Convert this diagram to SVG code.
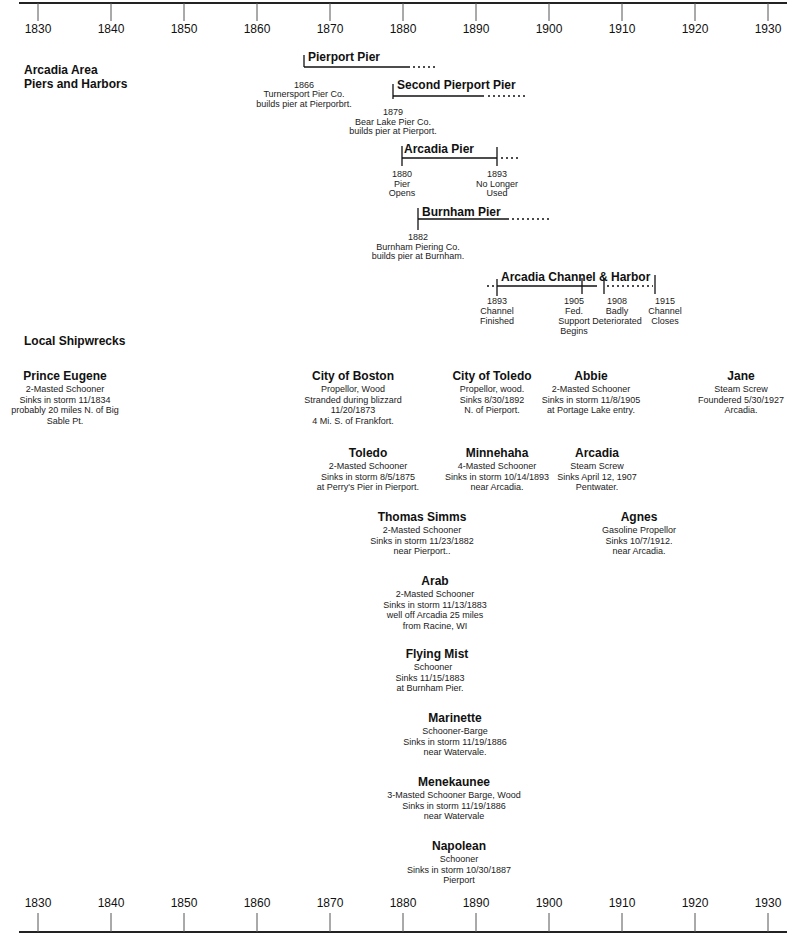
<svg xmlns="http://www.w3.org/2000/svg" width="800" height="937" viewBox="0 0 800 937">
<style>
text{font-family:"Liberation Sans",Arial,sans-serif;fill:#111}
.yr{font-size:12px;text-anchor:middle}
.h{font-size:12px;font-weight:bold}
.t{font-size:12px;font-weight:bold;text-anchor:middle}
.d{font-size:9px;text-anchor:middle;fill:#222}
.ax{stroke:#222;stroke-width:2}
.tk{stroke:#555;stroke-width:1}
.pl{stroke:#111;stroke-width:1.3;fill:none}
.dot{stroke:#111;stroke-width:1.3;stroke-dasharray:2 3;fill:none}
</style>
<g id="axis-top">
<line class="ax" x1="19" y1="3" x2="787" y2="3"/>
<g class="tk"><line x1="38" y1="3" x2="38" y2="21"/><line x1="111" y1="3" x2="111" y2="21"/><line x1="184" y1="3" x2="184" y2="21"/><line x1="257" y1="3" x2="257" y2="21"/><line x1="330" y1="3" x2="330" y2="21"/><line x1="403" y1="3" x2="403" y2="21"/><line x1="476" y1="3" x2="476" y2="21"/><line x1="549" y1="3" x2="549" y2="21"/><line x1="622" y1="3" x2="622" y2="21"/><line x1="695" y1="3" x2="695" y2="21"/><line x1="768" y1="3" x2="768" y2="21"/></g>
<text class="yr" x="38" y="33">1830</text><text class="yr" x="111" y="33">1840</text><text class="yr" x="184" y="33">1850</text><text class="yr" x="257" y="33">1860</text><text class="yr" x="330" y="33">1870</text><text class="yr" x="403" y="33">1880</text><text class="yr" x="476" y="33">1890</text><text class="yr" x="549" y="33">1900</text><text class="yr" x="622" y="33">1910</text><text class="yr" x="695" y="33">1920</text><text class="yr" x="768" y="33">1930</text>
</g>
<g id="axis-bottom">
<line class="ax" x1="19" y1="932" x2="787" y2="932"/>
<g class="tk"><line x1="38" y1="913" x2="38" y2="932"/><line x1="111" y1="913" x2="111" y2="932"/><line x1="184" y1="913" x2="184" y2="932"/><line x1="257" y1="913" x2="257" y2="932"/><line x1="330" y1="913" x2="330" y2="932"/><line x1="403" y1="913" x2="403" y2="932"/><line x1="476" y1="913" x2="476" y2="932"/><line x1="549" y1="913" x2="549" y2="932"/><line x1="622" y1="913" x2="622" y2="932"/><line x1="695" y1="913" x2="695" y2="932"/><line x1="768" y1="913" x2="768" y2="932"/></g>
<text class="yr" x="38" y="907">1830</text><text class="yr" x="111" y="907">1840</text><text class="yr" x="184" y="907">1850</text><text class="yr" x="257" y="907">1860</text><text class="yr" x="330" y="907">1870</text><text class="yr" x="403" y="907">1880</text><text class="yr" x="476" y="907">1890</text><text class="yr" x="549" y="907">1900</text><text class="yr" x="622" y="907">1910</text><text class="yr" x="695" y="907">1920</text><text class="yr" x="768" y="907">1930</text>
</g>
<g id="section-piers"><text class="h" x="24" y="74">Arcadia Area</text><text class="h" x="24" y="88">Piers and Harbors</text></g>
<g id="pierport-pier">
<line class="pl" x1="304" y1="55" x2="304" y2="67"/><line class="pl" x1="304" y1="67" x2="410" y2="67"/><line class="dot" x1="413" y1="67" x2="436" y2="67"/>
<text class="h" x="308" y="61">Pierport Pier</text>
<text class="d" x="304" y="87.5">1866</text><text class="d" x="304" y="97">Turnersport Pier Co.</text><text class="d" x="304" y="106.5">builds pier at Pierporbrt.</text>
</g>
<g id="second-pierport-pier">
<line class="pl" x1="393" y1="84" x2="393" y2="99"/><line class="pl" x1="393" y1="96" x2="484" y2="96"/><line class="dot" x1="488" y1="96" x2="525" y2="96"/>
<text class="h" x="397" y="89">Second Pierport Pier</text>
<text class="d" x="393" y="115">1879</text><text class="d" x="393" y="124.5">Bear Lake Pier Co.</text><text class="d" x="393" y="134">builds pier at Pierport.</text>
</g>
<g id="arcadia-pier">
<line class="pl" x1="402" y1="146" x2="402" y2="166"/><line class="pl" x1="497" y1="147" x2="497" y2="166"/><line class="pl" x1="402" y1="158" x2="497" y2="158"/><line class="dot" x1="501" y1="158" x2="520" y2="158"/>
<text class="h" x="404" y="153">Arcadia Pier</text>
<text class="d" x="402" y="177">1880</text><text class="d" x="402" y="186.5">Pier</text><text class="d" x="402" y="196">Opens</text>
<text class="d" x="497" y="177">1893</text><text class="d" x="497" y="186.5">No Longer</text><text class="d" x="497" y="196">Used</text>
</g>
<g id="burnham-pier">
<line class="pl" x1="418" y1="208" x2="418" y2="230"/><line class="pl" x1="418" y1="219" x2="509" y2="219"/><line class="dot" x1="512" y1="219" x2="549" y2="219"/>
<text class="h" x="422" y="216">Burnham Pier</text>
<text class="d" x="418" y="240">1882</text><text class="d" x="418" y="249.5">Burnham Piering Co.</text><text class="d" x="418" y="259">builds pier at Burnham.</text>
</g>
<g id="arcadia-channel-harbor">
<line class="dot" x1="487" y1="286" x2="497" y2="286"/><line class="pl" x1="497" y1="279" x2="497" y2="296"/><line class="pl" x1="497" y1="286" x2="597" y2="286"/>
<line class="pl" x1="582" y1="278" x2="582" y2="294"/><line class="pl" x1="604" y1="278" x2="604" y2="294"/><line class="dot" x1="607" y1="286" x2="653" y2="286"/><line class="pl" x1="655" y1="275" x2="655" y2="294"/>
<text class="h" x="501" y="281">Arcadia Channel &amp; Harbor</text>
<text class="d" x="497" y="304">1893</text><text class="d" x="497" y="314">Channel</text><text class="d" x="497" y="324">Finished</text>
<text class="d" x="574" y="304">1905</text><text class="d" x="574" y="314">Fed.</text><text class="d" x="574" y="324">Support</text><text class="d" x="574" y="334">Begins</text>
<text class="d" x="617" y="304">1908</text><text class="d" x="617" y="314">Badly</text><text class="d" x="617" y="324">Deteriorated</text>
<text class="d" x="665" y="304">1915</text><text class="d" x="665" y="314">Channel</text><text class="d" x="665" y="324">Closes</text>
</g>
<g id="section-shipwrecks"><text class="h" x="24" y="345">Local Shipwrecks</text></g>
<g id="prince-eugene"><text class="t" x="65" y="380">Prince Eugene</text><text class="d" x="65" y="392">2-Masted Schooner</text><text class="d" x="65" y="402.5">Sinks in storm 11/1834</text><text class="d" x="65" y="413">probably 20 miles N. of Big</text><text class="d" x="65" y="423.5">Sable Pt.</text></g>
<g id="city-of-boston"><text class="t" x="353" y="380">City of Boston</text><text class="d" x="353" y="392">Propellor, Wood</text><text class="d" x="353" y="402.5">Stranded during blizzard</text><text class="d" x="353" y="413">11/20/1873</text><text class="d" x="353" y="423.5">4 Mi. S. of Frankfort.</text></g>
<g id="city-of-toledo"><text class="t" x="492" y="380">City of Toledo</text><text class="d" x="492" y="392">Propellor, wood.</text><text class="d" x="492" y="402.5">Sinks 8/30/1892</text><text class="d" x="492" y="413">N. of Pierport.</text></g>
<g id="abbie"><text class="t" x="591" y="380">Abbie</text><text class="d" x="591" y="392">2-Masted Schooner</text><text class="d" x="591" y="402.5">Sinks in storm 11/8/1905</text><text class="d" x="591" y="413">at Portage Lake entry.</text></g>
<g id="jane"><text class="t" x="741" y="380">Jane</text><text class="d" x="741" y="392">Steam Screw</text><text class="d" x="741" y="402.5">Foundered 5/30/1927</text><text class="d" x="741" y="413">Arcadia.</text></g>
<g id="toledo"><text class="t" x="368" y="457">Toledo</text><text class="d" x="368" y="469">2-Masted Schooner</text><text class="d" x="368" y="479.5">Sinks in storm 8/5/1875</text><text class="d" x="368" y="490">at Perry's Pier in Pierport.</text></g>
<g id="minnehaha"><text class="t" x="497" y="457">Minnehaha</text><text class="d" x="497" y="469">4-Masted Schooner</text><text class="d" x="497" y="479.5">Sinks in storm 10/14/1893</text><text class="d" x="497" y="490">near Arcadia.</text></g>
<g id="arcadia"><text class="t" x="597" y="457">Arcadia</text><text class="d" x="597" y="469">Steam Screw</text><text class="d" x="597" y="479.5">Sinks April 12, 1907</text><text class="d" x="597" y="490">Pentwater.</text></g>
<g id="thomas-simms"><text class="t" x="422" y="521">Thomas Simms</text><text class="d" x="422" y="533">2-Masted Schooner</text><text class="d" x="422" y="543.5">Sinks in storm 11/23/1882</text><text class="d" x="422" y="554">near Pierport..</text></g>
<g id="agnes"><text class="t" x="639" y="521">Agnes</text><text class="d" x="639" y="533">Gasoline Propellor</text><text class="d" x="639" y="543.5">Sinks 10/7/1912.</text><text class="d" x="639" y="554">near Arcadia.</text></g>
<g id="arab"><text class="t" x="435" y="585">Arab</text><text class="d" x="435" y="597">2-Masted Schooner</text><text class="d" x="435" y="607.5">Sinks in storm 11/13/1883</text><text class="d" x="435" y="618">well off Arcadia 25 miles</text><text class="d" x="435" y="628.5">from Racine, WI</text></g>
<g id="flying-mist"><text class="t" x="437" y="658">Flying Mist</text><text class="d" x="433" y="670">Schooner</text><text class="d" x="430" y="680.5">Sinks 11/15/1883</text><text class="d" x="430" y="691">at Burnham Pier.</text></g>
<g id="marinette"><text class="t" x="455" y="722">Marinette</text><text class="d" x="455" y="734">Schooner-Barge</text><text class="d" x="455" y="744.5">Sinks in storm 11/19/1886</text><text class="d" x="455" y="755">near Watervale.</text></g>
<g id="menekaunee"><text class="t" x="454" y="786">Menekaunee</text><text class="d" x="454" y="798">3-Masted Schooner Barge, Wood</text><text class="d" x="454" y="808.5">Sinks in storm 11/19/1886</text><text class="d" x="454" y="819">near Watervale</text></g>
<g id="napolean"><text class="t" x="459" y="850">Napolean</text><text class="d" x="459" y="862">Schooner</text><text class="d" x="459" y="872.5">Sinks in storm 10/30/1887</text><text class="d" x="459" y="883">Pierport</text></g>
</svg>
